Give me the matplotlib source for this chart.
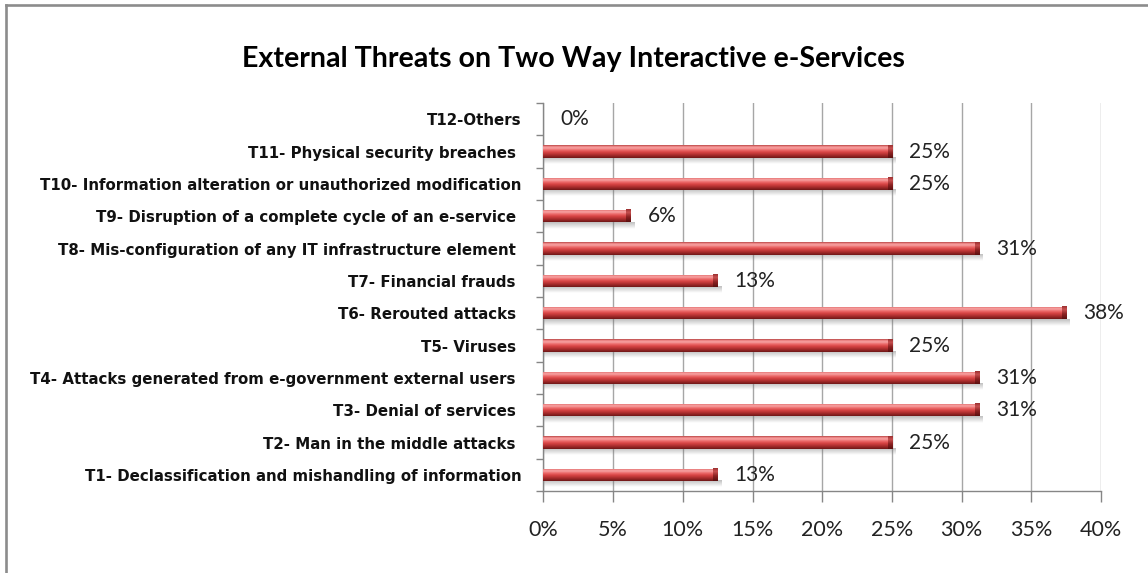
import numpy as np
import matplotlib
matplotlib.use("Agg")
import matplotlib.pyplot as plt
from matplotlib.colors import LinearSegmentedColormap
from matplotlib.lines import Line2D

# Survey data: share of respondents reporting each external threat
categories = [
    "T1- Declassification and mishandling of information",
    "T2- Man in the middle attacks ",
    "T3- Denial of services ",
    "T4- Attacks generated from e-government external users ",
    "T5- Viruses ",
    "T6- Rerouted attacks ",
    "T7- Financial frauds ",
    "T8- Mis-configuration of any IT infrastructure element ",
    "T9- Disruption of a complete cycle of an e-service ",
    "T10- Information alteration or unauthorized modification",
    "T11- Physical security breaches ",
    "T12-Others",
]
shares = [12.5, 25.0, 31.25, 31.25, 25.0, 37.5, 12.5, 31.25, 6.25, 25.0, 25.0, 0.0]
x_ticks = [0, 5, 10, 15, 20, 25, 30, 35, 40]
title = "External Threats on Two Way Interactive e-Services"

plt.rcParams["font.family"] = ["Lato", "DejaVu Sans"]

fig = plt.figure(figsize=(11.48, 5.73), dpi=100)
fig.patch.set_facecolor("white")
ax = fig.add_axes([0.4734, 0.1431, 0.959 - 0.4734, 0.8202 - 0.1431])

ypos = np.arange(len(categories))
bar_h = 0.38

bars = ax.barh(ypos, shares, height=bar_h, color="#d94a4a", zorder=3, linewidth=0)

# cylinder shading (bottom -> top)
body_cmap = LinearSegmentedColormap.from_list(
    "cyl",
    [(0.0, "#6e1717"), (0.18, "#9e2828"), (0.45, "#d84444"),
     (0.62, "#ec6a6a"), (0.78, "#f7a3a3"), (0.9, "#ef8585"), (1.0, "#b54545")],
)
cap_cmap = LinearSegmentedColormap.from_list(
    "cap",
    [(0.0, "#5a1010"), (0.4, "#8e2222"), (0.75, "#c85050"), (1.0, "#9a3030")],
)
grad = np.linspace(0, 1, 64).reshape(-1, 1)

# soft shadow under each bar
shadow = np.zeros((32, 1, 4))
shadow[..., :3] = 0.45
shadow[:, 0, 3] = np.linspace(0.0, 0.45, 32)

value_font = dict(fontsize=15, color="#222222")

for bar in bars:
    x0, y0 = bar.get_x(), bar.get_y()
    w, h = bar.get_width(), bar.get_height()
    if w <= 0:
        continue
    ax.imshow(shadow, extent=[x0, x0 + w + 0.3, y0 - 0.2, y0],
              origin="lower", aspect="auto", zorder=2, interpolation="bilinear")
    im = ax.imshow(grad, extent=[x0, x0 + w, y0, y0 + h], origin="lower",
                   cmap=body_cmap, aspect="auto", zorder=4, interpolation="bilinear")
    im.set_clip_path(bar)
    cw = min(0.3, w * 0.5)
    ax.imshow(grad, extent=[x0 + w - cw, x0 + w, y0, y0 + h], origin="lower",
              cmap=cap_cmap, aspect="auto", zorder=5, interpolation="bilinear")
    ax.annotate(f"{int(np.floor(w + 0.5))}%", xy=(x0 + w, y0 + h / 2),
                xytext=(17, 0), textcoords="offset pixels",
                ha="left", va="center", zorder=6, **value_font)

# label for categories with no responses
for v, y in zip(shares, ypos):
    if v <= 0:
        ax.annotate(f"{int(np.floor(v + 0.5))}%", xy=(v, y), xytext=(17, 0),
                    textcoords="offset pixels", ha="left", va="center",
                    zorder=6, **value_font)

ax.set_xlim(0, 40)
ax.set_ylim(-0.5, len(categories) - 0.5)

ax.set_xticks(x_ticks)
ax.set_xticklabels([f"{t}%" for t in x_ticks], fontsize=15.5, color="#222222")
ax.tick_params(axis="x", direction="out", length=8, width=1, color="#868686", pad=13)

ax.set_yticks(ypos)
ax.set_yticklabels(categories, fontsize=10.85, fontweight="bold", color="#111111",
                   family=["DejaVu Sans"])
ax.set_yticks(np.arange(-0.5, len(categories), 1.0), minor=True)
ax.tick_params(axis="y", which="major", length=0, pad=16)
ax.tick_params(axis="y", which="minor", direction="out", length=5, width=1, color="#868686")

ax.grid(axis="x", color="#a6a6a6", linewidth=1.0, zorder=0)
ax.set_axisbelow(True)
for side in ("top", "right"):
    ax.spines[side].set_visible(False)
for side in ("left", "bottom"):
    ax.spines[side].set_color("#868686")
    ax.spines[side].set_linewidth(1.0)

fig.text(0.4991, 0.897, title, ha="center", va="center",
         fontsize=20.6, fontweight="bold", color="#000000")

# chart frame edges
fig.add_artist(Line2D([0.0052, 1.0], [0.9921, 0.9921], transform=fig.transFigure,
                      color="#8c8c8c", linewidth=1.9))
fig.add_artist(Line2D([0.0052, 0.0052], [0.0, 0.9921], transform=fig.transFigure,
                      color="#8c8c8c", linewidth=1.9))

fig.savefig("out.png", dpi=100, facecolor="white")
